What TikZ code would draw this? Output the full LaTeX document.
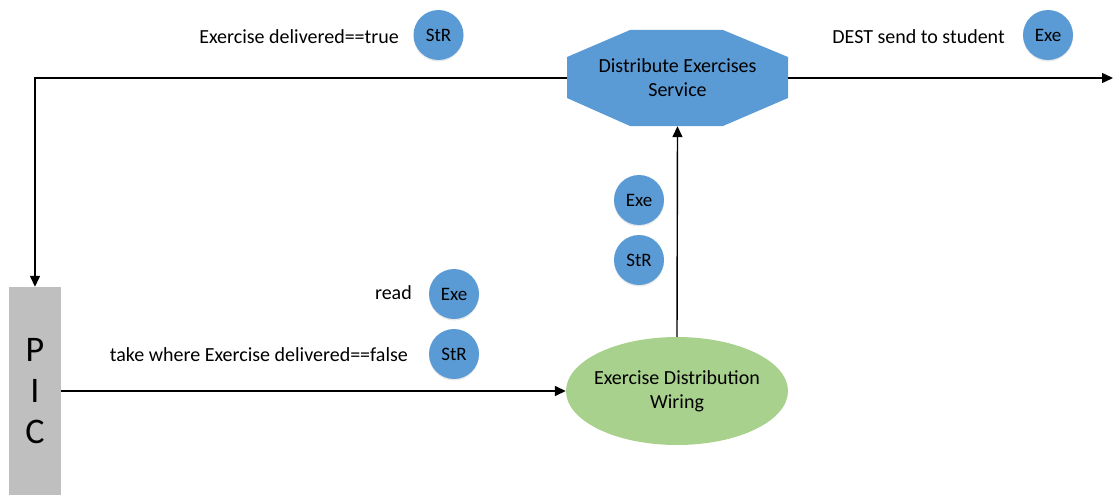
\documentclass[tikz,border=0pt]{standalone}
\usepackage{fontspec}
\setmainfont{Carlito}
\usetikzlibrary{arrows.meta,shadows,shapes.geometric}
\definecolor{officeblue}{HTML}{5B9BD5}
\definecolor{officegreen}{HTML}{A9D18E}
\definecolor{picgray}{HTML}{BFBFBF}
\begin{document}
\begin{tikzpicture}[x=1pt,y=-1pt,
  flow/.style={line width=1.4pt,-{Triangle[length=11pt,width=10pt]}},
  tag/.style={circle,fill=officeblue,minimum size=50pt,inner sep=0pt,
    font=\fontsize{19}{22}\selectfont,
    drop shadow={opacity=0.18,shadow xshift=0pt,shadow yshift=-1.5pt}},
  caption/.style={inner sep=0pt,anchor=east,font=\fontsize{20}{24}\selectfont},
  box/.style={align=center,font=\fontsize{20}{24}\selectfont,inner sep=0pt}]
\useasboundingbox (0,0) rectangle (1113,495);

% octagonal service shape
\fill[officeblue] (567,57) -- (630,30) -- (723,30) -- (788,57) -- (788,98)
  -- (723,126) -- (630,126) -- (567,98) -- cycle;
\node[box,minimum width=221pt,minimum height=96pt] (des) at (677.5,78)
  {Distribute Exercises\\Service};

% wiring ellipse with its label on top
\node[ellipse,fill=officegreen,minimum width=222pt,minimum height=108pt,inner sep=0pt]
  (wire) at (677,391) {};
\node[box] (wiretext) at (wire.center) {Exercise Distribution\\Wiring};

% PIC bar
\node[fill=picgray,minimum width=52pt,minimum height=208pt,inner sep=0pt,
  align=center,font=\fontsize{36}{41}\selectfont] (pic) at (35,391) {P\\I\\C};

\coordinate (corner) at (35,78);
\coordinate (out) at (1113,78);

% connectors
\draw[flow] (des.west) -- (corner) -- (pic.north);
\draw[flow] (pic.east |- wire.west) -- (wire.west);
\draw[flow] (wire.north) -- (des.south);
\draw[flow] (des.east) -- (out);

% tags and captions
\node[tag] (t1) at (438.5,35) {StR};
\node[caption] (c1) at (399,37) {Exercise delivered==true};
\node[tag] (t2) at (1048,35) {Exe};
\node[caption] (c2) at (1005,37) {DEST send to student};
\node[tag] (t3) at (639,200) {Exe};
\node[tag] (t4) at (639,260) {StR};
\node[tag] (t5) at (454,294) {Exe};
\node[caption] (c5) at (412,293) {read};
\node[tag] (t6) at (454,354) {StR};
\node[caption] (c6) at (408,355) {take where Exercise delivered==false};
\end{tikzpicture}
\end{document}
